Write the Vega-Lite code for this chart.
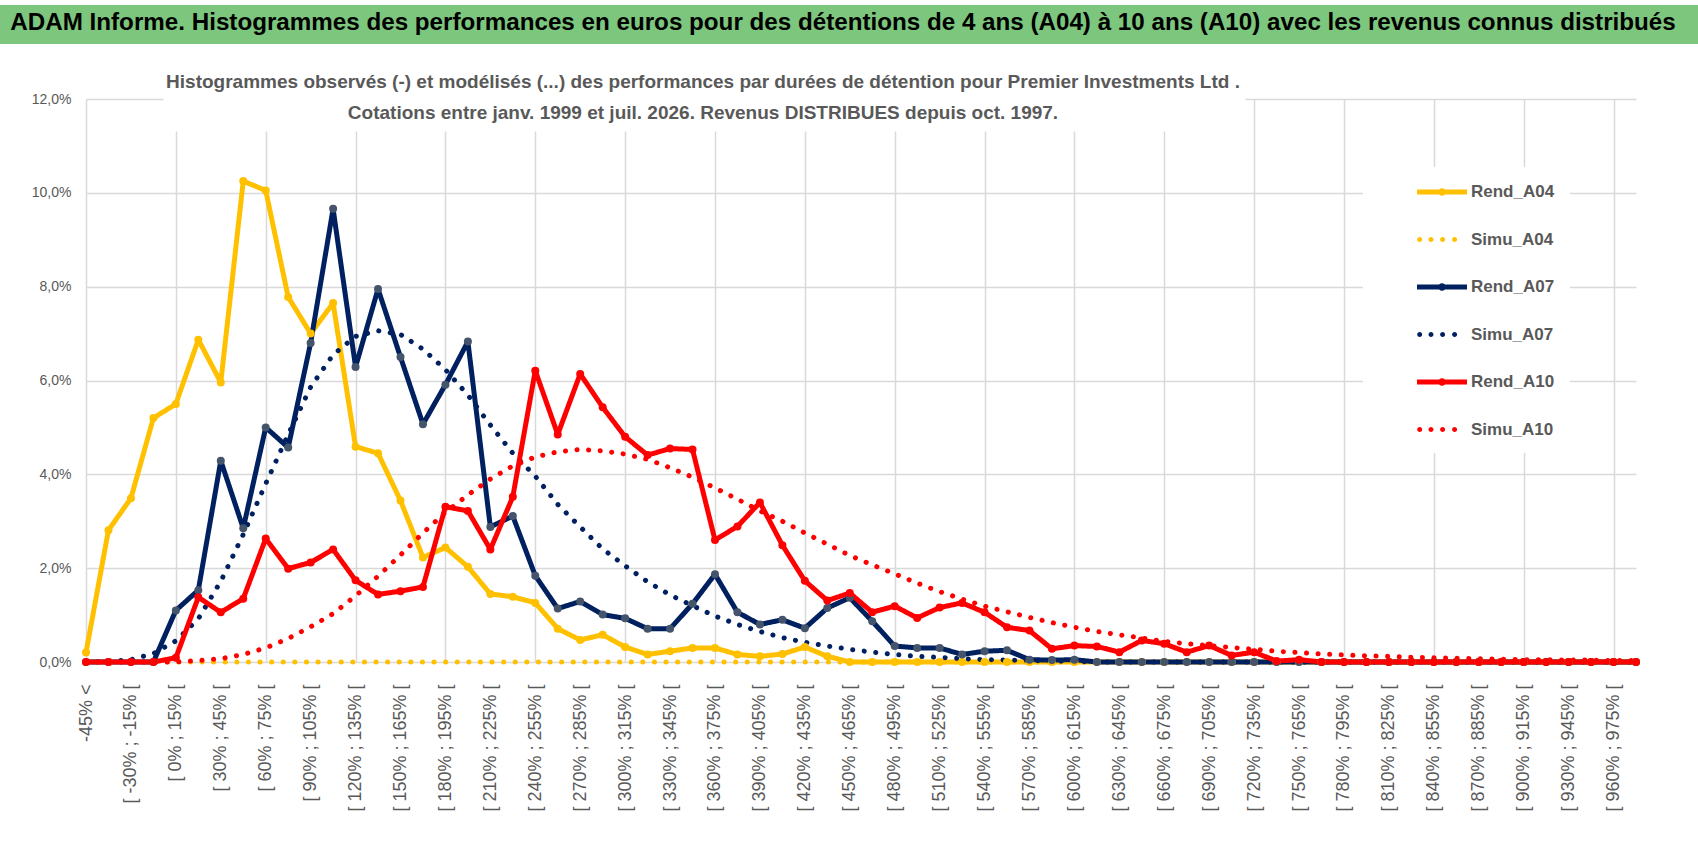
{
  "$schema": "https://vega.github.io/schema/vega-lite/v6.json",
  "background": "white",
  "padding": {"left": 0, "top": 5, "right": 0, "bottom": 0},
  "config": {"font": "Liberation Sans", "view": {"stroke": null}},
  "columns": 1,
  "align": "none",
  "spacing": 29,
  "concat": [
    {
      "width": 1698,
      "height": 39,
      "view": {"fill": "#7cc67d", "stroke": null},
      "data": {"values": [{"t": "ADAM Informe. Histogrammes des performances en euros pour des détentions de 4 ans (A04) à 10 ans (A10) avec les revenus connus distribués"}]},
      "mark": {"type": "text", "font": "Liberation Sans", "fontSize": 24.2, "fontWeight": "bold", "color": "black", "dx": -6, "dy": -2},
      "encoding": {"text": {"field": "t"}}
    },
    {
      "width": 1698,
      "height": 563,
      "title": {
        "text": [
          "Histogrammes observés (-)  et modélisés (...) des performances par durées de détention pour Premier Investments Ltd .",
          "Cotations entre janv. 1999 et juil. 2026. Revenus DISTRIBUES depuis oct. 1997."
        ],
        "font": "Liberation Sans",
        "fontSize": 19,
        "fontWeight": "bold",
        "color": "#595959",
        "anchor": "middle",
        "frame": "group",
        "dx": -146,
        "offset": -31,
        "lineHeight": 31
      },
      "data": {"values": [
        {"c": "-45% <", "Rend_A04": 0.2, "Simu_A04": 0, "Rend_A07": 0, "Simu_A07": 0, "Rend_A10": 0, "Simu_A10": 0},
        {"c": "[ -45% ; -30% [", "Rend_A04": 2.81, "Simu_A04": 0, "Rend_A07": 0, "Simu_A07": 0.01, "Rend_A10": 0, "Simu_A10": 0},
        {"c": "[ -30% ; -15% [", "Rend_A04": 3.49, "Simu_A04": 0, "Rend_A07": 0, "Simu_A07": 0.05, "Rend_A10": 0, "Simu_A10": 0},
        {"c": "[ -15% ; 0% [", "Rend_A04": 5.2, "Simu_A04": 0, "Rend_A07": 0, "Simu_A07": 0.18, "Rend_A10": 0, "Simu_A10": 0},
        {"c": "[ 0% ; 15% [", "Rend_A04": 5.5, "Simu_A04": 0, "Rend_A07": 1.1, "Simu_A07": 0.45, "Rend_A10": 0.09, "Simu_A10": 0},
        {"c": "[ 15% ; 30% [", "Rend_A04": 6.87, "Simu_A04": 0, "Rend_A07": 1.53, "Simu_A07": 0.92, "Rend_A10": 1.38, "Simu_A10": 0.03},
        {"c": "[ 30% ; 45% [", "Rend_A04": 5.96, "Simu_A04": 0, "Rend_A07": 4.29, "Simu_A07": 1.72, "Rend_A10": 1.06, "Simu_A10": 0.07},
        {"c": "[ 45% ; 60% [", "Rend_A04": 10.25, "Simu_A04": 0, "Rend_A07": 2.85, "Simu_A07": 2.72, "Rend_A10": 1.35, "Simu_A10": 0.16},
        {"c": "[ 60% ; 75% [", "Rend_A04": 10.05, "Simu_A04": 0, "Rend_A07": 5.0, "Simu_A07": 3.8, "Rend_A10": 2.63, "Simu_A10": 0.3},
        {"c": "[ 75% ; 90% [", "Rend_A04": 7.78, "Simu_A04": 0, "Rend_A07": 4.57, "Simu_A07": 4.85, "Rend_A10": 1.99, "Simu_A10": 0.5},
        {"c": "[ 90% ; 105% [", "Rend_A04": 7.0, "Simu_A04": 0, "Rend_A07": 6.8, "Simu_A07": 5.86, "Rend_A10": 2.12, "Simu_A10": 0.75},
        {"c": "[ 105% ; 120% [", "Rend_A04": 7.65, "Simu_A04": 0, "Rend_A07": 9.66, "Simu_A07": 6.55, "Rend_A10": 2.4, "Simu_A10": 1.03},
        {"c": "[ 120% ; 135% [", "Rend_A04": 4.59, "Simu_A04": 0, "Rend_A07": 6.29, "Simu_A07": 6.94, "Rend_A10": 1.74, "Simu_A10": 1.41},
        {"c": "[ 135% ; 150% [", "Rend_A04": 4.45, "Simu_A04": 0, "Rend_A07": 7.95, "Simu_A07": 7.06, "Rend_A10": 1.44, "Simu_A10": 1.83},
        {"c": "[ 150% ; 165% [", "Rend_A04": 3.44, "Simu_A04": 0, "Rend_A07": 6.5, "Simu_A07": 6.98, "Rend_A10": 1.51, "Simu_A10": 2.28},
        {"c": "[ 165% ; 180% [", "Rend_A04": 2.23, "Simu_A04": 0, "Rend_A07": 5.07, "Simu_A07": 6.67, "Rend_A10": 1.6, "Simu_A10": 2.75},
        {"c": "[ 180% ; 195% [", "Rend_A04": 2.44, "Simu_A04": 0, "Rend_A07": 5.91, "Simu_A07": 6.23, "Rend_A10": 3.31, "Simu_A10": 3.19},
        {"c": "[ 195% ; 210% [", "Rend_A04": 2.03, "Simu_A04": 0, "Rend_A07": 6.83, "Simu_A07": 5.69, "Rend_A10": 3.22, "Simu_A10": 3.56},
        {"c": "[ 210% ; 225% [", "Rend_A04": 1.45, "Simu_A04": 0, "Rend_A07": 2.88, "Simu_A07": 5.05, "Rend_A10": 2.4, "Simu_A10": 3.9},
        {"c": "[ 225% ; 240% [", "Rend_A04": 1.39, "Simu_A04": 0, "Rend_A07": 3.11, "Simu_A07": 4.45, "Rend_A10": 3.52, "Simu_A10": 4.18},
        {"c": "[ 240% ; 255% [", "Rend_A04": 1.26, "Simu_A04": 0, "Rend_A07": 1.84, "Simu_A07": 3.96, "Rend_A10": 6.21, "Simu_A10": 4.37},
        {"c": "[ 255% ; 270% [", "Rend_A04": 0.71, "Simu_A04": 0, "Rend_A07": 1.14, "Simu_A07": 3.36, "Rend_A10": 4.85, "Simu_A10": 4.48},
        {"c": "[ 270% ; 285% [", "Rend_A04": 0.47, "Simu_A04": 0, "Rend_A07": 1.29, "Simu_A07": 2.88, "Rend_A10": 6.14, "Simu_A10": 4.53},
        {"c": "[ 285% ; 300% [", "Rend_A04": 0.58, "Simu_A04": 0, "Rend_A07": 1.01, "Simu_A07": 2.41, "Rend_A10": 5.43, "Simu_A10": 4.5},
        {"c": "[ 300% ; 315% [", "Rend_A04": 0.32, "Simu_A04": 0, "Rend_A07": 0.93, "Simu_A07": 2.05, "Rend_A10": 4.8, "Simu_A10": 4.43},
        {"c": "[ 315% ; 330% [", "Rend_A04": 0.16, "Simu_A04": 0, "Rend_A07": 0.71, "Simu_A07": 1.71, "Rend_A10": 4.41, "Simu_A10": 4.32},
        {"c": "[ 330% ; 345% [", "Rend_A04": 0.23, "Simu_A04": 0, "Rend_A07": 0.71, "Simu_A07": 1.43, "Rend_A10": 4.55, "Simu_A10": 4.14},
        {"c": "[ 345% ; 360% [", "Rend_A04": 0.3, "Simu_A04": 0, "Rend_A07": 1.24, "Simu_A07": 1.2, "Rend_A10": 4.53, "Simu_A10": 3.94},
        {"c": "[ 360% ; 375% [", "Rend_A04": 0.3, "Simu_A04": 0, "Rend_A07": 1.87, "Simu_A07": 0.98, "Rend_A10": 2.6, "Simu_A10": 3.71},
        {"c": "[ 375% ; 390% [", "Rend_A04": 0.16, "Simu_A04": 0, "Rend_A07": 1.06, "Simu_A07": 0.8, "Rend_A10": 2.89, "Simu_A10": 3.47},
        {"c": "[ 390% ; 405% [", "Rend_A04": 0.12, "Simu_A04": 0, "Rend_A07": 0.8, "Simu_A07": 0.65, "Rend_A10": 3.4, "Simu_A10": 3.22},
        {"c": "[ 405% ; 420% [", "Rend_A04": 0.17, "Simu_A04": 0, "Rend_A07": 0.9, "Simu_A07": 0.52, "Rend_A10": 2.49, "Simu_A10": 3.0},
        {"c": "[ 420% ; 435% [", "Rend_A04": 0.32, "Simu_A04": 0, "Rend_A07": 0.72, "Simu_A07": 0.42, "Rend_A10": 1.73, "Simu_A10": 2.75},
        {"c": "[ 435% ; 450% [", "Rend_A04": 0.12, "Simu_A04": 0, "Rend_A07": 1.15, "Simu_A07": 0.34, "Rend_A10": 1.31, "Simu_A10": 2.51},
        {"c": "[ 450% ; 465% [", "Rend_A04": 0, "Simu_A04": 0, "Rend_A07": 1.37, "Simu_A07": 0.27, "Rend_A10": 1.47, "Simu_A10": 2.27},
        {"c": "[ 465% ; 480% [", "Rend_A04": 0, "Simu_A04": 0, "Rend_A07": 0.87, "Simu_A07": 0.21, "Rend_A10": 1.06, "Simu_A10": 2.07},
        {"c": "[ 480% ; 495% [", "Rend_A04": 0, "Simu_A04": 0, "Rend_A07": 0.34, "Simu_A07": 0.16, "Rend_A10": 1.19, "Simu_A10": 1.88},
        {"c": "[ 495% ; 510% [", "Rend_A04": 0, "Simu_A04": 0, "Rend_A07": 0.3, "Simu_A07": 0.12, "Rend_A10": 0.94, "Simu_A10": 1.68},
        {"c": "[ 510% ; 525% [", "Rend_A04": 0, "Simu_A04": 0, "Rend_A07": 0.3, "Simu_A07": 0.1, "Rend_A10": 1.16, "Simu_A10": 1.5},
        {"c": "[ 525% ; 540% [", "Rend_A04": 0, "Simu_A04": 0, "Rend_A07": 0.16, "Simu_A07": 0.07, "Rend_A10": 1.26, "Simu_A10": 1.34},
        {"c": "[ 540% ; 555% [", "Rend_A04": 0, "Simu_A04": 0, "Rend_A07": 0.23, "Simu_A07": 0.05, "Rend_A10": 1.06, "Simu_A10": 1.19},
        {"c": "[ 555% ; 570% [", "Rend_A04": 0, "Simu_A04": 0, "Rend_A07": 0.25, "Simu_A07": 0.04, "Rend_A10": 0.74, "Simu_A10": 1.07},
        {"c": "[ 570% ; 585% [", "Rend_A04": 0, "Simu_A04": 0, "Rend_A07": 0.05, "Simu_A07": 0.03, "Rend_A10": 0.67, "Simu_A10": 0.95},
        {"c": "[ 585% ; 600% [", "Rend_A04": 0, "Simu_A04": 0, "Rend_A07": 0.04, "Simu_A07": 0.02, "Rend_A10": 0.28, "Simu_A10": 0.84},
        {"c": "[ 600% ; 615% [", "Rend_A04": 0, "Simu_A04": 0, "Rend_A07": 0.05, "Simu_A07": 0.01, "Rend_A10": 0.35, "Simu_A10": 0.74},
        {"c": "[ 615% ; 630% [", "Rend_A04": 0, "Simu_A04": 0, "Rend_A07": 0, "Simu_A07": 0, "Rend_A10": 0.33, "Simu_A10": 0.65},
        {"c": "[ 630% ; 645% [", "Rend_A04": 0, "Simu_A04": 0, "Rend_A07": 0, "Simu_A07": 0, "Rend_A10": 0.21, "Simu_A10": 0.58},
        {"c": "[ 645% ; 660% [", "Rend_A04": 0, "Simu_A04": 0, "Rend_A07": 0, "Simu_A07": 0, "Rend_A10": 0.46, "Simu_A10": 0.51},
        {"c": "[ 660% ; 675% [", "Rend_A04": 0, "Simu_A04": 0, "Rend_A07": 0, "Simu_A07": 0, "Rend_A10": 0.39, "Simu_A10": 0.44},
        {"c": "[ 675% ; 690% [", "Rend_A04": 0, "Simu_A04": 0, "Rend_A07": 0, "Simu_A07": 0, "Rend_A10": 0.21, "Simu_A10": 0.39},
        {"c": "[ 690% ; 705% [", "Rend_A04": 0, "Simu_A04": 0, "Rend_A07": 0, "Simu_A07": 0, "Rend_A10": 0.35, "Simu_A10": 0.35},
        {"c": "[ 705% ; 720% [", "Rend_A04": 0, "Simu_A04": 0, "Rend_A07": 0, "Simu_A07": 0, "Rend_A10": 0.14, "Simu_A10": 0.31},
        {"c": "[ 720% ; 735% [", "Rend_A04": 0, "Simu_A04": 0, "Rend_A07": 0, "Simu_A07": 0, "Rend_A10": 0.21, "Simu_A10": 0.27},
        {"c": "[ 735% ; 750% [", "Rend_A04": 0, "Simu_A04": 0, "Rend_A07": 0, "Simu_A07": 0, "Rend_A10": 0.02, "Simu_A10": 0.23},
        {"c": "[ 750% ; 765% [", "Rend_A04": 0, "Simu_A04": 0, "Rend_A07": 0, "Simu_A07": 0, "Rend_A10": 0.05, "Simu_A10": 0.2},
        {"c": "[ 765% ; 780% [", "Rend_A04": 0, "Simu_A04": 0, "Rend_A07": 0, "Simu_A07": 0, "Rend_A10": 0, "Simu_A10": 0.17},
        {"c": "[ 780% ; 795% [", "Rend_A04": 0, "Simu_A04": 0, "Rend_A07": 0, "Simu_A07": 0, "Rend_A10": 0, "Simu_A10": 0.15},
        {"c": "[ 795% ; 810% [", "Rend_A04": 0, "Simu_A04": 0, "Rend_A07": 0, "Simu_A07": 0, "Rend_A10": 0, "Simu_A10": 0.13},
        {"c": "[ 810% ; 825% [", "Rend_A04": 0, "Simu_A04": 0, "Rend_A07": 0, "Simu_A07": 0, "Rend_A10": 0, "Simu_A10": 0.12},
        {"c": "[ 825% ; 840% [", "Rend_A04": 0, "Simu_A04": 0, "Rend_A07": 0, "Simu_A07": 0, "Rend_A10": 0, "Simu_A10": 0.1},
        {"c": "[ 840% ; 855% [", "Rend_A04": 0, "Simu_A04": 0, "Rend_A07": 0, "Simu_A07": 0, "Rend_A10": 0, "Simu_A10": 0.09},
        {"c": "[ 855% ; 870% [", "Rend_A04": 0, "Simu_A04": 0, "Rend_A07": 0, "Simu_A07": 0, "Rend_A10": 0, "Simu_A10": 0.08},
        {"c": "[ 870% ; 885% [", "Rend_A04": 0, "Simu_A04": 0, "Rend_A07": 0, "Simu_A07": 0, "Rend_A10": 0, "Simu_A10": 0.07},
        {"c": "[ 885% ; 900% [", "Rend_A04": 0, "Simu_A04": 0, "Rend_A07": 0, "Simu_A07": 0, "Rend_A10": 0, "Simu_A10": 0.06},
        {"c": "[ 900% ; 915% [", "Rend_A04": 0, "Simu_A04": 0, "Rend_A07": 0, "Simu_A07": 0, "Rend_A10": 0, "Simu_A10": 0.05},
        {"c": "[ 915% ; 930% [", "Rend_A04": 0, "Simu_A04": 0, "Rend_A07": 0, "Simu_A07": 0, "Rend_A10": 0, "Simu_A10": 0.05},
        {"c": "[ 930% ; 945% [", "Rend_A04": 0, "Simu_A04": 0, "Rend_A07": 0, "Simu_A07": 0, "Rend_A10": 0, "Simu_A10": 0.04},
        {"c": "[ 945% ; 960% [", "Rend_A04": 0, "Simu_A04": 0, "Rend_A07": 0, "Simu_A07": 0, "Rend_A10": 0, "Simu_A10": 0.04},
        {"c": "[ 960% ; 975% [", "Rend_A04": 0, "Simu_A04": 0, "Rend_A07": 0, "Simu_A07": 0, "Rend_A10": 0, "Simu_A10": 0.03},
        {"c": "975% >", "Rend_A04": 0, "Simu_A04": 0, "Rend_A07": 0, "Simu_A07": 0, "Rend_A10": 0, "Simu_A10": 0.03}
      ]},
      "transform": [
        {"fold": ["Rend_A04", "Simu_A04", "Rend_A07", "Simu_A07", "Rend_A10", "Simu_A10"], "as": ["serie", "v"]}
      ],
      "encoding": {
        "x": {
          "field": "c",
          "type": "nominal",
          "sort": null,
          "scale": {"type": "point", "padding": 0, "range": [86, 1636]},
          "axis": {
            "title": null,
            "labelAngle": -90,
            "labelFontSize": 18,
            "labelColor": "#595959",
            "labelPadding": 22,
            "labelOverlap": false,
            "labelBound": false,
            "labelExpr": "datum.value === '-45% <' || parseInt(substring(datum.value, 2)) % 30 === 0 ? datum.value : ''",
            "ticks": false,
            "domain": false,
            "grid": true,
            "gridColor": "#d9d9d9",
            "gridWidth": 1.5,
            "gridOpacity": {"condition": {"test": "datum.value === '-45% <' || parseInt(substring(datum.value, 2)) % 60 === 0", "value": 1}, "value": 0},
            "gridDash": {"condition": {"test": "datum.value !== '-45% <' && parseInt(substring(datum.value, 2)) >= 0 && parseInt(substring(datum.value, 2)) <= 660", "value": [0, 32, 1000, 10]}, "value": []}
          }
        },
        "y": {
          "field": "v",
          "type": "quantitative",
          "scale": {"domain": [0, 12], "nice": false},
          "axis": {
            "title": null,
            "values": [0, 2, 4, 6, 8, 10, 12],
            "labelExpr": "replace(format(datum.value, '.1f'), '.', ',') + '%'",
            "labelFontSize": 14,
            "labelColor": "#595959",
            "labelPadding": 15,
            "ticks": false,
            "domain": false,
            "offset": -86,
            "minExtent": 0,
            "gridColor": "#d9d9d9",
            "gridWidth": 1.5,
            "gridDash": {"condition": {"test": "datum.value === 12", "value": [77, 1082, 400, 10]}, "value": []}
          }
        }
      },
      "layer": [
        {
          "mark": {"type": "line", "strokeWidth": 5, "strokeCap": "round", "strokeJoin": "round"},
          "encoding": {
            "color": {
              "field": "serie",
              "type": "nominal",
              "sort": null,
              "scale": {
                "domain": ["Rend_A04", "Simu_A04", "Rend_A07", "Simu_A07", "Rend_A10", "Simu_A10"],
                "range": ["#ffc000", "#ffc000", "#002060", "#002060", "#ff0000", "#ff0000"]
              },
              "legend": {
                "orient": "none",
                "legendX": 1363,
                "legendY": 162,
                "title": null,
                "fillColor": "white",
                "padding": 15,
                "symbolSize": 400,
                "symbolStrokeWidth": 0,
                "symbolOffset": 54,
                "labelOffset": 19,
                "rowPadding": 29.5,
                "labelFont": "Liberation Sans",
                "labelFontSize": 17,
                "labelFontWeight": "bold",
                "labelColor": "#595959",
                "labelLimit": 300,
                "encode": {
                  "symbols": {
                    "update": {
                      "shape": {"signal": "indexof(datum.value, 'Rend') === 0 ? 'M-5.6,0L-5.6,0.01L-5.59,0Z M-2.5,-0.25L2.5,-0.25L2.5,0.25L-2.5,0.25Z M0.38,0A0.38,0.38,0,1,1,-0.38,0A0.38,0.38,0,1,1,0.38,0Z' : 'M-5.6,0L-5.6,0.01L-5.59,0Z M-1.98,0A0.25,0.25,0,1,1,-2.48,0A0.25,0.25,0,1,1,-1.98,0Z M-0.85,0A0.25,0.25,0,1,1,-1.35,0A0.25,0.25,0,1,1,-0.85,0Z M0.31,0A0.25,0.25,0,1,1,-0.19,0A0.25,0.25,0,1,1,0.31,0Z M1.51,0A0.25,0.25,0,1,1,1.01,0A0.25,0.25,0,1,1,1.51,0Z'"},
                      "fill": {"scale": "color", "field": "value"},
                      "stroke": {"value": "transparent"}
                    }
                  }
                }
              }
            },
            "strokeDash": {
              "field": "serie",
              "type": "nominal",
              "scale": {
                "domain": ["Rend_A04", "Simu_A04", "Rend_A07", "Simu_A07", "Rend_A10", "Simu_A10"],
                "range": [[1, 0], [0.1, 11.5], [1, 0], [0.1, 11.5], [1, 0], [0.1, 11.5]]
              },
              "legend": null
            }
          }
        },
        {
          "transform": [{"filter": "indexof(datum.serie, 'Rend') === 0"}],
          "mark": {"type": "circle", "size": 64, "opacity": 1},
          "encoding": {
            "fill": {
              "field": "serie",
              "type": "nominal",
              "scale": {"domain": ["Rend_A04", "Rend_A07", "Rend_A10"], "range": ["#ffc000", "#44546a", "#ff0000"]},
              "legend": null
            }
          }
        }
      ]
    }
  ]
}
